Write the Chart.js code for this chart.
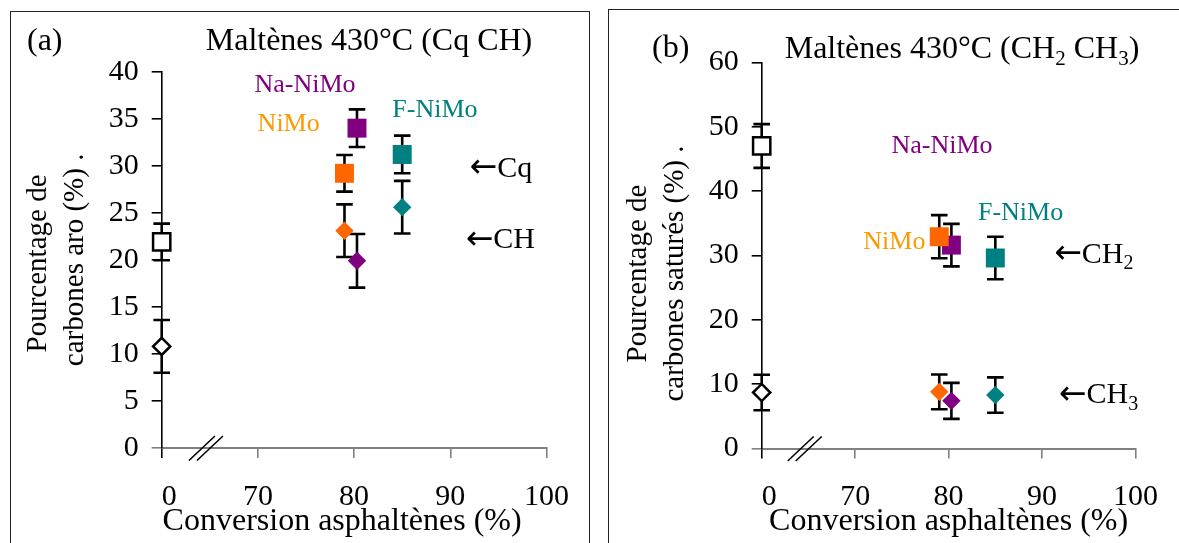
<!DOCTYPE html>
<html><head><meta charset="utf-8">
<script src="https://cdn.jsdelivr.net/npm/chart.js@4.4.1/dist/chart.umd.min.js"></script>
<style>
html,body{margin:0;padding:0;background:#fff;overflow:hidden;}
#wrap{position:relative;width:1179px;height:543px;}
canvas{position:absolute;top:0;}
#ca{left:0;} #cb{left:600px;}
.frame{position:absolute;border:1.5px solid #222;box-sizing:border-box;pointer-events:none;}
</style></head>
<body><div id="wrap">
<canvas id="ca" width="590" height="543"></canvas>
<canvas id="cb" width="579" height="543"></canvas>
<div class="frame" style="left:10px;top:11px;width:580px;height:600px"></div>
<div class="frame" style="left:608px;top:9px;width:620px;height:600px"></div>
</div>
<script>
const FONT = "'Liberation Serif','Times New Roman','DejaVu Serif',serif";
const ARROW_FONT = "'DejaVu Sans',sans-serif";

// ---- data ----
const seriesNames = ['Charge', 'NiMo', 'Na-NiMo', 'F-NiMo'];
const conversion = [60, 79.0, 80.3, 85.0];          // 60 on the broken axis is shown as "0"
const xTickValues = [60, 70, 80, 90, 100];
const xTickLabels = ['0', '70', '80', '90', '100'];
const yTickValuesA = [0, 5, 10, 15, 20, 25, 30, 35, 40];
const yTickValuesB = [0, 10, 20, 30, 40, 50, 60];

// panel (a) : Cq (squares) and CH (diamonds)
const cqValues = [21.9, 29.2, 34.0, 31.2];
const cqErrors = [1.95, 1.95, 2.0, 2.0];
const chValues = [10.8, 23.1, 19.9, 25.6];
const chErrors = [2.8, 2.8, 2.85, 2.8];

// panel (b) : CH2 (squares) and CH3 (diamonds)
const ch2Values = [47.0, 32.9, 31.6, 29.6];
const ch2Errors = [3.4, 3.35, 3.3, 3.3];
const ch3Values = [8.7, 8.8, 7.4, 8.3];
const ch3Errors = [2.75, 2.7, 2.8, 2.75];

// ---- styles ----
const markerColors = ['#ffffff', '#ff6600', '#800080', '#008080'];
const labelColors = ['#000000', '#ff9900', '#800080', '#008080'];

function makeDatasets(sqV, sqE, diV, diE) {
  const ds = [];
  seriesNames.forEach((name, i) => {
    const open = i === 0;
    ds.push({
      label: name + ' (carré)', data: [{x: conversion[i], y: sqV[i]}], errors: [sqE[i]],
      pointStyle: 'rect', pointRadius: open ? 12.2 : 13.4,
      pointBackgroundColor: open ? '#fff' : markerColors[i],
      pointBorderColor: open ? '#000' : markerColors[i],
      pointBorderWidth: open ? 2.5 : 0, clip: false, showLine: false
    });
    ds.push({
      label: name + ' (losange)', data: [{x: conversion[i], y: diV[i]}], errors: [diE[i]],
      pointStyle: 'rectRot', pointRadius: open ? 8.6 : 9.2,
      pointBackgroundColor: open ? '#fff' : markerColors[i],
      pointBorderColor: open ? '#000' : markerColors[i],
      pointBorderWidth: open ? 2.5 : 0, clip: false, showLine: false
    });
  });
  return ds;
}

const errorBars = {
  id: 'errorBars',
  beforeDatasetsDraw(chart) {
    const ctx = chart.ctx, ys = chart.scales.y;
    ctx.save();
    ctx.strokeStyle = '#000'; ctx.lineWidth = 2.6; ctx.lineCap = 'butt';
    chart.data.datasets.forEach((d, di) => {
      const meta = chart.getDatasetMeta(di);
      meta.data.forEach((pt, j) => {
        const v = d.data[j].y, e = d.errors[j];
        const x = pt.x, y1 = ys.getPixelForValue(v + e), y2 = ys.getPixelForValue(v - e);
        ctx.beginPath();
        ctx.moveTo(x, y1); ctx.lineTo(x, y2);
        ctx.moveTo(x - 8.3, y1); ctx.lineTo(x + 8.3, y1);
        ctx.moveTo(x - 8.3, y2); ctx.lineTo(x + 8.3, y2);
        ctx.stroke();
      });
    });
    ctx.restore();
  }
};

// parts: [text, kind] with kind '' (normal), 'sub' (subscript) or 'arrow'
function drawRich(ctx, parts, x, y, size, align, color) {
  const fontFor = k => k === 'sub' ? Math.round(size * 0.66) + 'px ' + FONT
                    : k === 'arrow' ? Math.round(size * 1.1) + 'px ' + ARROW_FONT
                    : size + 'px ' + FONT;
  let w = 0;
  parts.forEach(p => { ctx.font = fontFor(p[1]); w += ctx.measureText(p[0]).width; });
  let cx = align === 'center' ? x - w / 2 : x;
  ctx.textAlign = 'left'; ctx.textBaseline = 'alphabetic'; ctx.fillStyle = color;
  parts.forEach(p => {
    ctx.font = fontFor(p[1]);
    const dy = p[1] === 'sub' ? size * 0.22 : p[1] === 'arrow' ? size * 0.02 : 0;
    ctx.fillText(p[0], cx, y + dy);
    cx += ctx.measureText(p[0]).width;
  });
}

const panelDecor = {
  ca: {
    title: [['Maltènes 430°C (Cq CH)', '']], titleX: 369, titleY: 50,
    tag: '(a)', tagX: 27, tagY: 50,
    notes: [
      {parts: [['Na-NiMo', '']], x: 74.9, y: 38.8, size: 26, align: 'center', color: labelColors[2]},
      {parts: [['NiMo', '']], x: 73.2, y: 34.6, size: 26, align: 'center', color: labelColors[1]},
      {parts: [['F-NiMo', '']], x: 88.4, y: 36.1, size: 26, align: 'center', color: labelColors[3]},
      {parts: [['←', 'arrow'], ['Cq', '']], x: 92.0, y: 29.9, size: 30, align: 'left', color: '#000'},
      {parts: [['←', 'arrow'], ['CH', '']], x: 91.6, y: 22.3, size: 30, align: 'left', color: '#000'}
    ]
  },
  cb: {
    title: [['Maltènes 430°C (CH', ''], ['2', 'sub'], [' CH', ''], ['3', 'sub'], [')', '']], titleX: 362, titleY: 58,
    tag: '(b)', tagX: 52, tagY: 57,
    notes: [
      {parts: [['Na-NiMo', '']], x: 79.3, y: 47.2, size: 26, align: 'center', color: labelColors[2]},
      {parts: [['F-NiMo', '']], x: 87.7, y: 36.8, size: 26, align: 'center', color: labelColors[3]},
      {parts: [['NiMo', '']], x: 74.2, y: 32.4, size: 26, align: 'center', color: labelColors[1]},
      {parts: [['←', 'arrow'], ['CH', ''], ['2', 'sub']], x: 91.3, y: 30.4, size: 30, align: 'left', color: '#000'},
      {parts: [['←', 'arrow'], ['CH', ''], ['3', 'sub']], x: 91.8, y: 8.6, size: 30, align: 'left', color: '#000'}
    ]
  }
};

const decorPlugin = {
  id: 'decor',
  afterDraw(chart) {
    const dec = panelDecor[chart.canvas.id];
    const ctx = chart.ctx, xs = chart.scales.x, ys = chart.scales.y;
    ctx.save();
    drawRich(ctx, dec.title, dec.titleX, dec.titleY, 32, 'center', '#000');
    drawRich(ctx, [[dec.tag, '']], dec.tagX, dec.tagY, 32, 'left', '#000');
    dec.notes.forEach(n => {
      const px = xs.getPixelForValue(n.x), py = ys.getPixelForValue(n.y) + 0.33 * n.size;
      drawRich(ctx, n.parts, px, py, n.size, n.align, n.color);
    });
    // axis break marks
    const bx = xs.getPixelForValue(64.6), by = chart.chartArea.bottom;
    ctx.strokeStyle = '#000'; ctx.lineWidth = 1.6;
    ctx.beginPath();
    ctx.moveTo(bx - 17, by + 12.5); ctx.lineTo(bx + 9, by - 12);
    ctx.moveTo(bx - 9, by + 12.5); ctx.lineTo(bx + 17, by - 12);
    ctx.stroke();
    ctx.restore();
  }
};

function makeChart(id, datasets, yTicks, pad, yTitleLines) {
  return new Chart(document.getElementById(id), {
    type: 'scatter',
    data: {datasets},
    plugins: [errorBars, decorPlugin],
    options: {
      responsive: false, animation: false, devicePixelRatio: 1,
      layout: {padding: {top: pad.top, right: pad.right, left: 0, bottom: 0}},
      plugins: {legend: {display: false}, tooltip: {enabled: false}},
      scales: {
        x: {
          type: 'linear', min: 60, max: 100,
          afterFit: s => { s.height = 543 - pad.axisY; },
          afterBuildTicks: s => { s.ticks = xTickValues.map(v => ({value: v})); },
          grid: {drawOnChartArea: false, drawTicks: true, tickLength: 10, lineWidth: 1.6,
                 color: c => (c.tick && c.tick.value === 60) ? '#000' : '#808080'},
          border: {color: '#808080', width: 2},
          ticks: {autoSkip: false, maxRotation: 0, padding: 21, color: '#000',
                  font: {family: FONT, size: 30},
                  callback: (v, i) => i === 0 ? '\u00a0\u00a0' + xTickLabels[i] : xTickLabels[i]},
          title: {display: true, text: 'Conversion asphaltènes (%)' + pad.xTitleSpaces, color: '#000',
                  font: {family: FONT, size: 32}, padding: {top: 0, bottom: 2}}
        },
        y: {
          type: 'linear', min: yTicks[0], max: yTicks[yTicks.length - 1],
          afterFit: s => { s.width = 161.7; },
          afterBuildTicks: s => { s.ticks = yTicks.map(v => ({value: v})); },
          grid: {drawOnChartArea: false, drawTicks: true, tickLength: 10, lineWidth: 1.6,
                 color: c => (c.tick && c.tick.value === 0) ? '#808080' : '#000'},
          border: {color: '#000', width: 1.6},
          ticks: {padding: 13, color: '#000', font: {family: FONT, size: 30}},
          title: {display: true, text: yTitleLines, color: '#000',
                  font: {family: FONT, size: 29, lineHeight: 1.28}, padding: {top: 19.5, bottom: 0}}
        }
      }
    }
  });
}

makeChart('ca', makeDatasets(cqValues, cqErrors, chValues, chErrors), yTickValuesA,
  {top: 71.7, right: 36.3, axisY: 448, xTitleSpaces: '\u00a0\u00a0\u00a0'},
  ['Pourcentage de\u00a0', 'carbones aro (%) .']);
makeChart('cb', makeDatasets(ch2Values, ch2Errors, ch3Values, ch3Errors), yTickValuesB,
  {top: 62.3, right: 25.3, axisY: 448.5, xTitleSpaces: ''},
  ['Pourcentage de\u00a0\u00a0\u00a0\u00a0\u00a0', 'carbones saturés (%) .\u00a0\u00a0\u00a0\u00a0\u00a0']);
</script></body></html>
